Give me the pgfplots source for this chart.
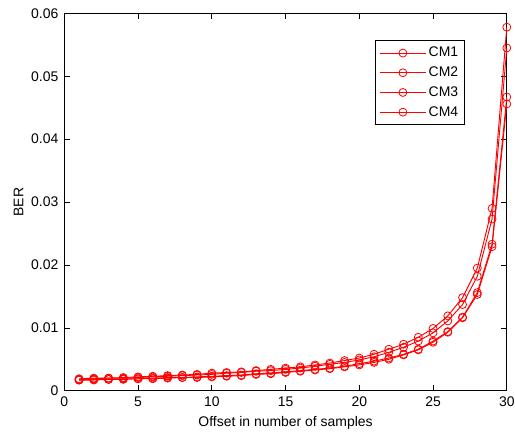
\documentclass[border={7pt 2pt -3pt 3pt}]{standalone}
\usepackage{fontspec}
\setmainfont{Liberation Sans}
\usepackage{pgfplots}
\pgfplotsset{compat=1.18}

\pgfplotstableread{
x cma cmb cmc cmd
1 0.0019 0.0018 0.0017 0.0017
2 0.0020 0.0019 0.0018 0.0017
3 0.0020 0.0020 0.0018 0.0018
4 0.0021 0.0020 0.0019 0.0018
5 0.0022 0.0021 0.0019 0.0019
6 0.0023 0.0022 0.0020 0.0019
7 0.0024 0.0023 0.0021 0.0020
8 0.0025 0.0024 0.0021 0.0021
9 0.0026 0.0025 0.0022 0.0021
10 0.0028 0.0026 0.0023 0.0022
11 0.0029 0.0028 0.0024 0.0023
12 0.0030 0.0029 0.0025 0.0024
13 0.0032 0.0031 0.0027 0.0026
14 0.0034 0.0032 0.0028 0.0027
15 0.0036 0.0034 0.0030 0.0029
16 0.0038 0.0036 0.0032 0.0031
17 0.0041 0.0039 0.0034 0.0033
18 0.0044 0.0042 0.0036 0.0035
19 0.0048 0.0045 0.0039 0.0038
20 0.0052 0.0049 0.0043 0.0041
21 0.0058 0.0054 0.0047 0.0045
22 0.0066 0.0061 0.0052 0.0050
23 0.0074 0.0069 0.0058 0.0057
24 0.0085 0.0079 0.0066 0.0065
25 0.0099 0.0092 0.0079 0.0077
26 0.0119 0.0111 0.0094 0.0093
27 0.0148 0.0137 0.0117 0.0116
28 0.0195 0.0182 0.0156 0.0153
29 0.0290 0.0273 0.0233 0.0229
30 0.0578 0.0545 0.0467 0.0456
}\bertable

\tikzset{cmline/.style={red, line width=0.7pt, mark=o, mark size=3pt,
    mark options={solid, line width=0.6pt}}}

\begin{document}
\begin{tikzpicture}
\begin{axis}[
  scale only axis, width=333pt, height=284pt,
  xmin=0, xmax=30, ymin=0, ymax=0.06,
  scaled ticks=false,
  xtick={0,5,...,30},
  ytick={0,0.01,0.02,0.03,0.04,0.05,0.06},
  xticklabels={0,5,10,15,20,25,30},
  yticklabels={0,0.01,0.02,0.03,0.04,0.05,0.06},
  tick align=inside, major tick length=4pt,
  axis line style={line width=0.8pt},
  tick style={black, line width=0.5pt},
  tick label style={font=\fontsize{10.5}{12}\selectfont},
  yticklabel style={xshift=-1pt},
  xticklabel style={yshift=-1pt},
  label style={font=\fontsize{10.5}{12}\selectfont},
  xlabel={Offset in number of samples}, ylabel={BER},
  xlabel style={yshift=-3pt, inner sep=1pt}, ylabel style={yshift=-1pt},
  legend style={at={(0.906,0.929)}, anchor=north east, draw=black, line width=0.6pt,
    font=\fontsize{10.5}{12}\selectfont, row sep=2pt, inner xsep=3pt, inner ysep=3pt},
  legend cell align=left,
  legend image code/.code={\draw[mark repeat=2, mark phase=2]
    plot coordinates {(0cm,0cm) (0.6cm,0cm) (1.2cm,0cm)};},
]
\addplot[cmline] table[x=x, y=cma] {\bertable};
\addplot[cmline] table[x=x, y=cmb] {\bertable};
\addplot[cmline] table[x=x, y=cmc] {\bertable};
\addplot[cmline] table[x=x, y=cmd] {\bertable};
\legend{CM1, CM2, CM3, CM4}
\end{axis}
\end{tikzpicture}
\end{document}
